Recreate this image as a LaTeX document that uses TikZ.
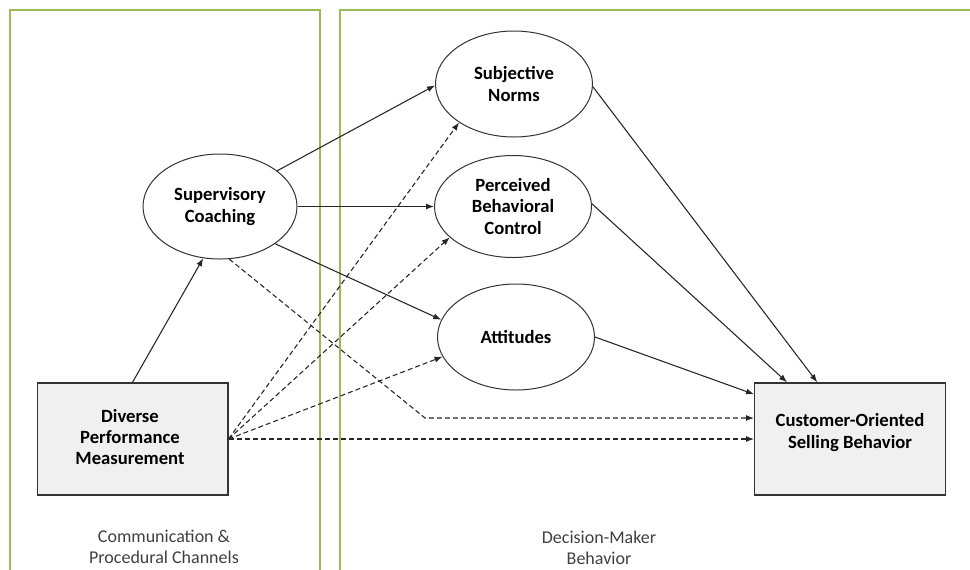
\documentclass[tikz,border=0pt]{standalone}
\usepackage{fontspec}
\setmainfont{Carlito}
\usetikzlibrary{shapes.geometric,arrows.meta}

\definecolor{framegreen}{HTML}{9BBB59}
\definecolor{inkgray}{HTML}{333333}
\definecolor{labelgray}{HTML}{404040}
\definecolor{boxfill}{HTML}{F0F0F0}

\tikzset{
  frame/.style={draw=framegreen, line width=1.5pt},
  construct/.style={ellipse, draw=inkgray, line width=0.75pt, fill=white,
    inner sep=0pt, align=center, font=\fontsize{14}{16}\selectfont\bfseries},
  measure/.style={rectangle, draw=inkgray, line width=1pt, fill=boxfill,
    inner sep=0pt, minimum width=143pt, minimum height=84pt},
  boxtext/.style={align=center, inner sep=0pt, font=\fontsize{14}{16}\selectfont\bfseries},
  region/.style={align=center, inner sep=0pt, text=labelgray,
    font=\fontsize{13.5}{16}\selectfont},
  path/.style={draw=black!85, line width=0.8pt, -{Latex[length=6pt,width=4.5pt]}},
  hypo/.style={path, dash pattern=on 3.75pt off 2.25pt}
}

\begin{document}
\begin{tikzpicture}[x=0.75pt, y=-0.75pt]
  \useasboundingbox (0,0) rectangle (970,569);
  \clip (0,0) rectangle (970,569);
  \fill[white] (0,0) rectangle (970,569);

  % channel frames
  \draw[frame] (10,10) rectangle (320,580);
  \draw[frame] (340,10) rectangle (990,580);

  % constructs
  \node[construct, minimum width=115.5pt, minimum height=78.75pt] (SC) at (220,206.5) {Supervisory\\Coaching};
  \node[construct, minimum width=117.75pt, minimum height=79.5pt] (SN) at (514,84) {Subjective\\Norms};
  \node[construct, minimum width=117.75pt, minimum height=76.5pt] (PBC) at (513,206.5) {Perceived\\Behavioral\\Control};
  \node[construct, minimum width=117.75pt, minimum height=79.5pt] (ATT) at (516,337) {Attitudes};

  \node[measure] (DPM) at (132.5,439) {};
  \node[boxtext] (DPMtext) at (130,437) {Diverse\\Performance\\Measurement};
  \node[measure] (COSB) at (850,439) {};
  \node[boxtext] (COSBtext) at (850,432.5) {Customer-Oriented\\Selling Behavior};

  % region captions
  \node[region] (leftcap) at (164,547) {Communication \&\\Procedural Channels};
  \node[region] (rightcap) at (599,548) {Decision-Maker\\Behavior};

  % direct paths
  \draw[path] (DPM.north) -- (SC.252);
  \draw[path] (SC.32) -- (SN.181);
  \draw[path] (SC.east) -- (PBC.west);
  \draw[path] (SC.326) -- (ATT.167);
  \draw[path] (SN.358) -- (COSB.120.5);
  \draw[path] (PBC.2) -- (COSB.138.8);
  \draw[path] (ATT.east) -- (COSB.155.1);

  % hypothesised paths
  \draw[hypo] (DPM.east) -- (SN.215.5);
  \draw[hypo] (DPM.east) -- (PBC.206.6);
  \draw[hypo] (DPM.east) -- (ATT.195.3);
  \draw[hypo] (DPM.east) -- (COSB.west);
  \coordinate (bend) at (425,418);
  \draw[hypo] (SC.280.5) -- (bend) -- (bend -| COSB.west);
\end{tikzpicture}
\end{document}
